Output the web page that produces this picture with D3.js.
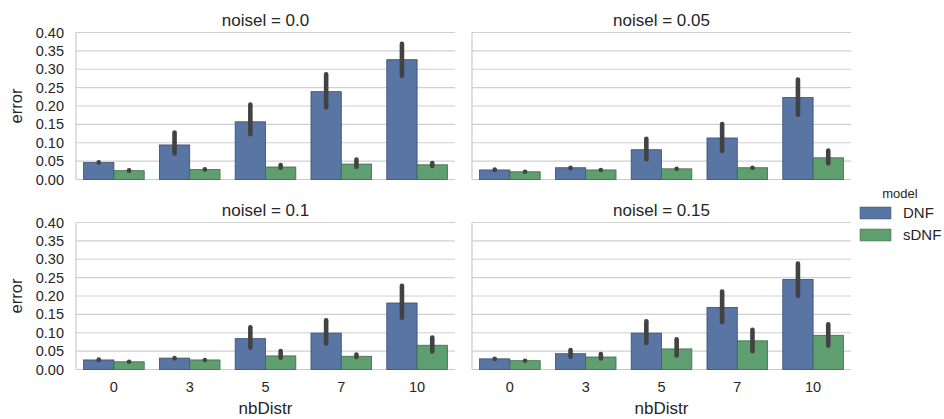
<!DOCTYPE html>
<html>
<head>
<meta charset="utf-8">
<script src="https://cdn.jsdelivr.net/npm/d3@7"></script>
<style>
  body { margin: 0; background: #fff; }
  text { font-family: "Liberation Sans", Arial, sans-serif; fill: #262626; }
</style>
</head>
<body>
<div class="chart"></div>
<script>
// data
var categories = ["0", "3", "5", "7", "10"];
var models = ["DNF", "sDNF"];
var noiseLevels = ["0.0", "0.05", "0.1", "0.15"];
var yTicks = [0, 0.05, 0.1, 0.15, 0.2, 0.25, 0.3, 0.35, 0.4];

// mean error per noise level, one array per model
var dnfMean = [
  [0.046, 0.094, 0.157, 0.239, 0.326],
  [0.026, 0.032, 0.081, 0.113, 0.223],
  [0.026, 0.031, 0.084, 0.099, 0.181],
  [0.029, 0.043, 0.099, 0.169, 0.245]
];
var sdnfMean = [
  [0.024, 0.027, 0.034, 0.042, 0.040],
  [0.021, 0.026, 0.029, 0.032, 0.059],
  [0.021, 0.026, 0.037, 0.036, 0.066],
  [0.024, 0.034, 0.056, 0.078, 0.093]
];
// confidence intervals [low, high]
var dnfCI = [
  [[0.046, 0.047], [0.071, 0.128], [0.123, 0.204], [0.196, 0.286], [0.282, 0.369]],
  [[0.026, 0.027], [0.031, 0.032], [0.055, 0.111], [0.078, 0.151], [0.176, 0.272]],
  [[0.026, 0.027], [0.030, 0.031], [0.059, 0.115], [0.071, 0.134], [0.141, 0.228]],
  [[0.029, 0.029], [0.035, 0.053], [0.072, 0.131], [0.129, 0.212], [0.201, 0.288]]
];
var sdnfCI = [
  [[0.024, 0.025], [0.027, 0.028], [0.032, 0.039], [0.035, 0.054], [0.037, 0.045]],
  [[0.021, 0.021], [0.026, 0.026], [0.029, 0.029], [0.032, 0.032], [0.044, 0.079]],
  [[0.021, 0.021], [0.026, 0.026], [0.032, 0.050], [0.034, 0.041], [0.049, 0.087]],
  [[0.024, 0.024], [0.030, 0.042], [0.038, 0.082], [0.050, 0.108], [0.065, 0.123]]
];

var colors = { DNF: "#5975a4", sDNF: "#5f9e6e" };
var edges = { DNF: "#3a4d70", sDNF: "#3c6a47" };

var svgWidth = 944;
var svgHeight = 419;

var panelW = 379;
var panelH = 147;
var panelLeft = [76, 472];
var panelTop = [32.5, 222.5];

var svg = d3.select(".chart")
  .append("svg")
  .attr("width", svgWidth)
  .attr("height", svgHeight);

var x0 = d3.scaleBand().domain(categories).range([0, panelW]).paddingInner(0.2).paddingOuter(0.1);
var x1 = d3.scaleBand().domain(models).range([0, x0.bandwidth()]);
var y = d3.scaleLinear().domain([0, 0.4]).range([panelH, 0]);

noiseLevels.forEach(function(noise, i) {
  var col = i % 2, row = Math.floor(i / 2);
  var g = svg.append("g")
    .attr("transform", `translate(${panelLeft[col]}, ${panelTop[row]})`);

  // horizontal grid
  g.selectAll(".grid")
    .data(yTicks)
    .enter()
    .append("line")
    .attr("x1", 0)
    .attr("x2", panelW)
    .attr("y1", d => y(d))
    .attr("y2", d => y(d))
    .attr("stroke", "#d0d0d0")
    .attr("stroke-width", 1.2);

  // spines
  g.append("line")
    .attr("x1", 0).attr("x2", 0)
    .attr("y1", 0).attr("y2", panelH)
    .attr("stroke", "#cccccc").attr("stroke-width", 1.2);
  g.append("line")
    .attr("x1", 0).attr("x2", panelW)
    .attr("y1", panelH).attr("y2", panelH)
    .attr("stroke", "#cccccc").attr("stroke-width", 1.2);

  var rows = [];
  categories.forEach(function(c, j) {
    rows.push({ cat: c, model: "DNF", v: dnfMean[i][j], ci: dnfCI[i][j] });
    rows.push({ cat: c, model: "sDNF", v: sdnfMean[i][j], ci: sdnfCI[i][j] });
  });

  g.selectAll(".bar")
    .data(rows)
    .enter()
    .append("rect")
    .attr("x", d => x0(d.cat) + x1(d.model))
    .attr("y", d => y(d.v))
    .attr("width", x1.bandwidth())
    .attr("height", d => panelH - y(d.v))
    .attr("fill", d => colors[d.model])
    .attr("stroke", d => edges[d.model])
    .attr("stroke-width", 0.8);

  g.selectAll(".err")
    .data(rows)
    .enter()
    .append("line")
    .attr("x1", d => x0(d.cat) + x1(d.model) + x1.bandwidth() / 2)
    .attr("x2", d => x0(d.cat) + x1(d.model) + x1.bandwidth() / 2)
    .attr("y1", d => y(d.ci[0]))
    .attr("y2", d => y(d.ci[1]))
    .attr("stroke", "#424242")
    .attr("stroke-width", 4.6)
    .attr("stroke-linecap", "round");

  // panel title
  g.append("text")
    .attr("x", panelW / 2)
    .attr("y", -7)
    .attr("text-anchor", "middle")
    .style("font-size", "17px")
    .text("noisel = " + noise);

  // y tick labels only on left column
  if (col === 0) {
    g.selectAll(".ytick")
      .data(yTicks)
      .enter()
      .append("text")
      .attr("x", -12)
      .attr("y", d => y(d))
      .attr("dy", "0.35em")
      .attr("text-anchor", "end")
      .style("font-size", "14.5px")
      .text(d => d3.format(".2f")(d));

    g.append("text")
      .attr("transform", "rotate(-90)")
      .attr("x", -panelH / 2)
      .attr("y", -60)
      .attr("dy", "0.35em")
      .attr("text-anchor", "middle")
      .style("font-size", "16.5px")
      .text("error");
  }

  // x tick labels only on bottom row
  if (row === 1) {
    g.selectAll(".xtick")
      .data(categories)
      .enter()
      .append("text")
      .attr("x", d => x0(d) + x0.bandwidth() / 2)
      .attr("y", panelH + 17.5)
      .attr("dy", "0.35em")
      .attr("text-anchor", "middle")
      .style("font-size", "14.5px")
      .text(d => d);

    g.append("text")
      .attr("x", panelW / 2)
      .attr("y", panelH + 39)
      .attr("dy", "0.35em")
      .attr("text-anchor", "middle")
      .style("font-size", "17px")
      .text("nbDistr");
  }
});

// legend
var legend = svg.append("g").attr("transform", "translate(860, 193)");
legend.append("text")
  .attr("x", 40)
  .attr("y", 0)
  .attr("dy", "0.35em")
  .attr("text-anchor", "middle")
  .style("font-size", "13px")
  .text("model");

var items = legend.selectAll(".item")
  .data(models)
  .enter()
  .append("g")
  .attr("transform", (d, i) => `translate(0, ${14 + i * 22})`);

items.append("rect")
  .attr("width", 31)
  .attr("height", 12)
  .attr("fill", d => colors[d])
  .attr("stroke", d => edges[d])
  .attr("stroke-width", 0.5);

items.append("text")
  .attr("x", 43)
  .attr("y", 6)
  .attr("dy", "0.35em")
  .style("font-size", "15px")
  .text(d => d);
</script>
</body>
</html>
